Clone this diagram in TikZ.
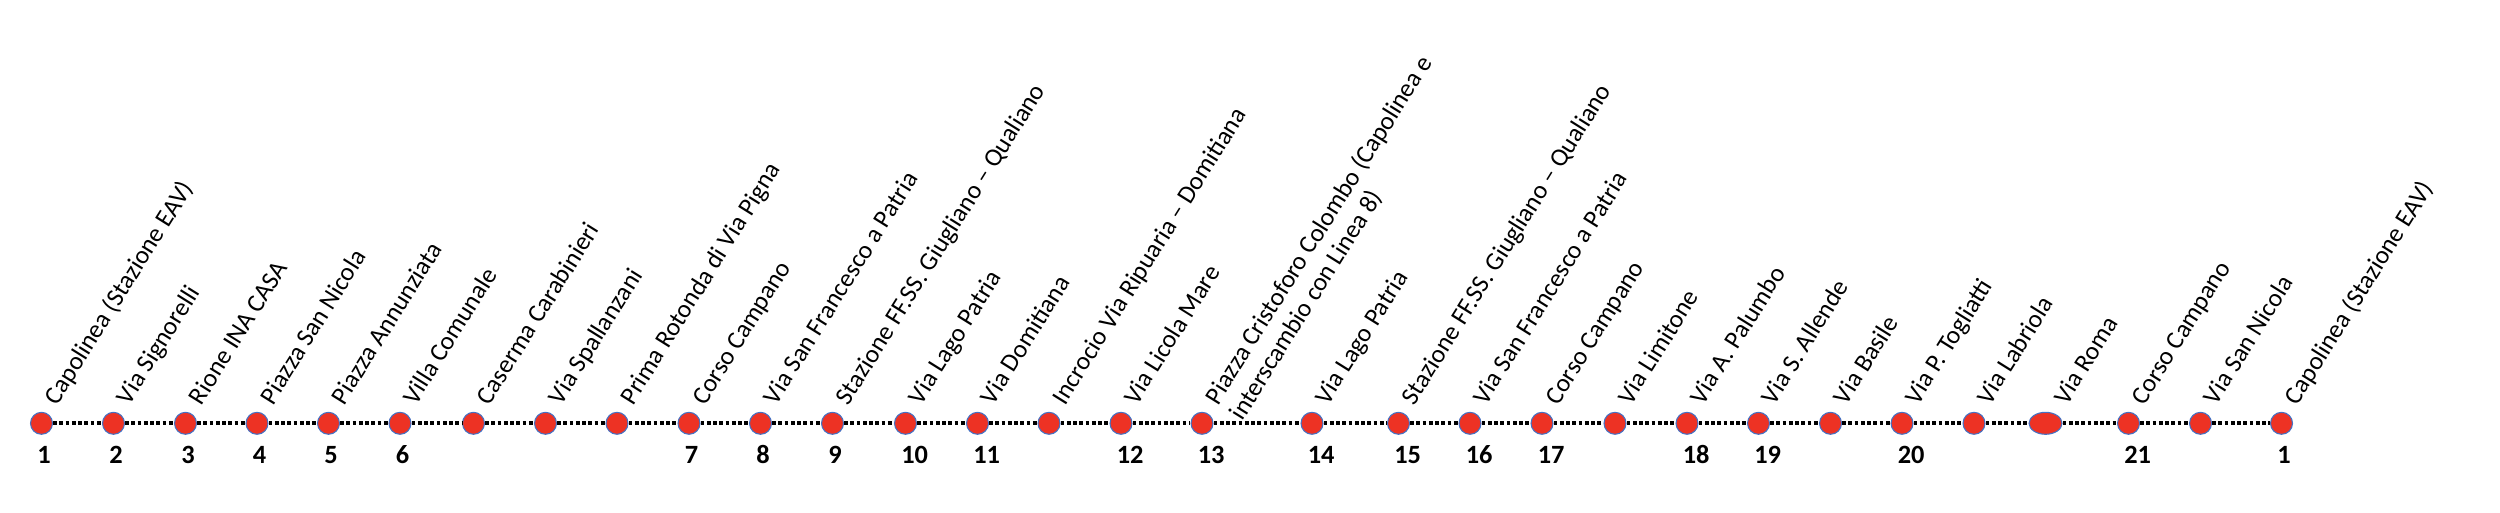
\documentclass[tikz,border=0pt]{standalone}
\usepackage{fontspec}
\setmainfont{Carlito}
\usetikzlibrary{shapes.geometric}
\definecolor{stopred}{RGB}{237,50,36}
\definecolor{stopblue}{RGB}{68,114,196}

\begin{document}
\begin{tikzpicture}[
    stop/.style = {shape = circle, draw = stopblue, fill = stopred, line width = 0.6pt, minimum size = 0.44cm, inner sep = 0pt},
    bigstop/.style = {stop, shape = ellipse, minimum width = 0.66cm, minimum height = 0.44cm},
    stopname/.style = {rotate = 58, anchor = base west, inner sep = 0pt, font = \fontsize{14.5}{16.6}\selectfont},
    stopnum/.style = {anchor = base west, inner sep = 0pt, font = \fontsize{15}{18}\selectfont\bfseries},
    route/.style = {line width = 0.075cm, dash pattern = on 0.075cm off 0.05cm}]
    \useasboundingbox (0,0) rectangle (50,10.24);
    % stops along the line
    \foreach \x/\kind/\name [count = \i] in {
        0.83/stop/Capolinea (Stazione EAV), 2.27/stop/Via Signorelli, 3.71/stop/Rione INA CASA,
        5.14/stop/Piazza San Nicola, 6.57/stop/Piazza Annunziata, 8.00/stop/Villa Comunale,
        9.47/stop/Caserma Carabinieri, 10.91/stop/Via Spallanzani, 12.34/stop/Prima Rotonda di Via Pigna,
        13.78/stop/Corso Campano, 15.21/stop/Via San Francesco a Patria,
        16.65/stop/Stazione FF.SS. Giugliano – Qualiano, 18.11/stop/Via Lago Patria,
        19.55/stop/Via Domitiana, 20.98/stop/Incrocio Via Ripuaria – Domitiana, 22.42/stop/Via Licola Mare,
        24.04/stop/{\begin{tabular}[t]{@{}l@{}}Piazza Cristoforo Colombo (Capolinea e\\ interscambio con Linea 8)\end{tabular}},
        26.24/stop/Via Lago Patria, 27.97/stop/Stazione FF.SS. Giugliano – Qualiano,
        29.40/stop/Via San Francesco a Patria, 30.84/stop/Corso Campano, 32.30/stop/Via Limitone,
        33.74/stop/Via A. Palumbo, 35.17/stop/Via S. Allende, 36.61/stop/Via Basile,
        38.04/stop/Via P. Togliatti, 39.48/stop/Via Labriola, 40.91/bigstop/Via Roma,
        42.57/stop/Corso Campano, 44.01/stop/Via San Nicola, 45.63/stop/Capolinea (Stazione EAV)}{
        \node [\kind] (s\i) at (\x,1.774) {};
        \coordinate (p\i) at ([xshift = 0.09cm, yshift = 0.34cm]s\i.east);
        \node [stopname] (t\i) at (p\i) {\name};
    }
    \foreach \i [evaluate = \i as \j using int(\i+1)] in {1,...,30}
        \draw [route] (s\i) -- (s\j);
    % stop numbers
    \foreach \i/\n in {1/1, 2/2, 3/3, 4/4, 5/5, 6/6, 10/7, 11/8, 12/9, 13/10, 14/11, 16/12, 17/13,
        18/14, 19/15, 20/16, 21/17, 23/18, 24/19, 26/20, 29/21, 31/1}
        \node [stopnum] (n\i) at ([xshift = -0.09cm, yshift = -0.81cm]s\i.center) {\n};
\end{tikzpicture}
\end{document}
